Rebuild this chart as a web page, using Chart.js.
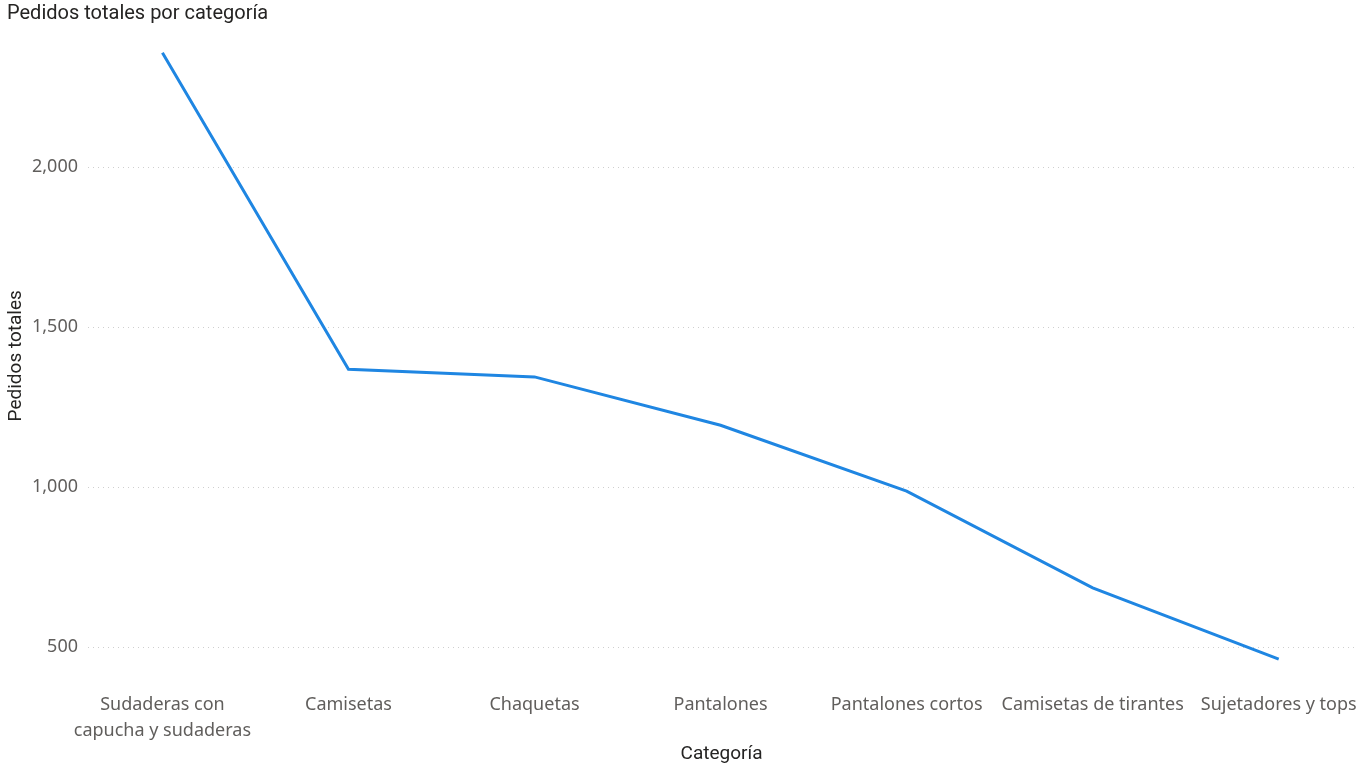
<!DOCTYPE html>
<html>
<head>
<meta charset="utf-8">
<script src="https://cdn.jsdelivr.net/npm/chart.js@4"></script>
<style>
  html, body { margin: 0; padding: 0; background: #ffffff; }
  #wrap { width: 1370px; height: 768px; position: relative; }
</style>
</head>
<body>
<div id="wrap"><canvas id="c"></canvas></div>
<script>
const chartTitle = "Pedidos totales por categoría";
const xAxisTitle = "Categoría";
const yAxisTitle = "Pedidos totales";
const categories = [
  ["Sudaderas con", "capucha y sudaderas"],
  "Camisetas",
  "Chaquetas",
  "Pantalones",
  "Pantalones cortos",
  "Camisetas de tirantes",
  "Sujetadores y tops"
];
const pedidos = [2357, 1368, 1344, 1193, 987, 685, 462];
const yTicks = [500, 1000, 1500, 2000];

const points = pedidos.map((v, i) => ({ x: i, y: v }));

new Chart(document.getElementById('c'), {
  type: 'line',
  data: {
    datasets: [{
      label: yAxisTitle,
      data: points,
      borderColor: '#1F86E2',
      borderWidth: 3,
      pointRadius: 0,
      pointHoverRadius: 0,
      tension: 0,
      fill: false
    }]
  },
  options: {
    responsive: true,
    maintainAspectRatio: false,
    animation: false,
    layout: { padding: { left: 7, right: 15, top: 0, bottom: 0 } },
    plugins: {
      legend: { display: false },
      tooltip: { enabled: false },
      title: {
        display: true,
        text: chartTitle,
        align: 'start',
        color: '#252423',
        font: { family: 'Roboto, "Noto Sans", sans-serif', size: 20, weight: 'normal', lineHeight: 1.2 },
        padding: { top: 2, bottom: 13 }
      }
    },
    scales: {
      x: {
        type: 'linear',
        min: -0.4,
        max: 6.41,
        afterBuildTicks: (s) => { s.ticks = categories.map((c, i) => ({ value: i })); },
        afterFit: (s) => { s.height = 95.4; },
        grid: { display: true, drawOnChartArea: false, drawTicks: true, tickLength: 19, tickColor: 'rgba(0,0,0,0)', color: 'rgba(0,0,0,0)' },
        border: { display: false },
        ticks: {
          autoSkip: false,
          maxRotation: 0,
          padding: 0,
          color: '#605E5C',
          font: { family: '"Noto Sans", "Open Sans", sans-serif', size: 18, lineHeight: 1.444 },
          callback: (v) => categories[v]
        },
        title: {
          display: true,
          text: xAxisTitle,
          color: '#252423',
          font: { family: 'Roboto, "Noto Sans", sans-serif', size: 19, lineHeight: 1.2 },
          padding: { top: 0, bottom: 2.6 }
        }
      },
      y: {
        min: 420,
        max: 2400,
        afterBuildTicks: (s) => { s.ticks = yTicks.map(v => ({ value: v })); },
        afterFit: (s) => { s.width = 81; },
        grid: { color: '#CFCFCF', lineWidth: 1, drawTicks: false },
        border: { display: false, dash: [1, 4] },
        ticks: {
          padding: 10,
          color: '#605E5C',
          font: { family: '"Noto Sans", "Open Sans", sans-serif', size: 18 },
          callback: (v) => v.toLocaleString('en-US')
        },
        title: {
          display: true,
          text: yAxisTitle,
          color: '#252423',
          font: { family: 'Roboto, "Noto Sans", sans-serif', size: 19, lineHeight: 1 },
          padding: { top: 0, bottom: 0 }
        }
      }
    }
  }
});
</script>
</body>
</html>
